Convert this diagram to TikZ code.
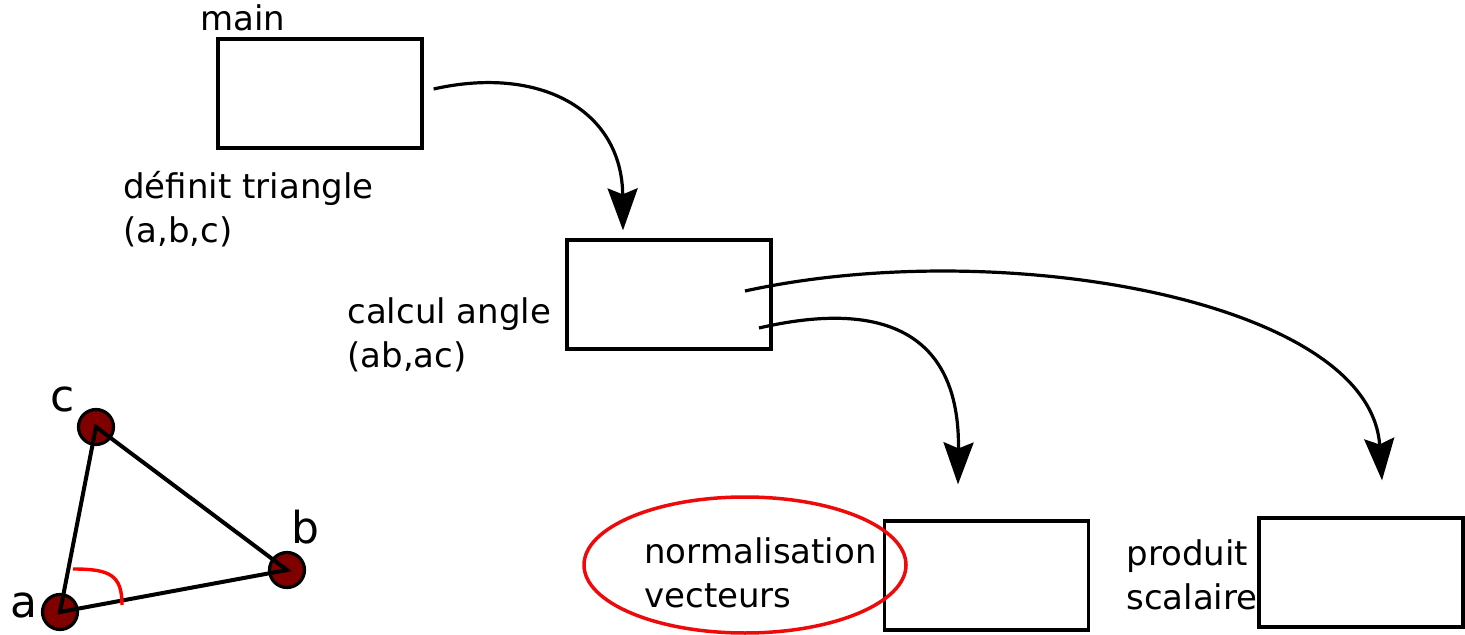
\documentclass[tikz,border=0pt]{standalone}
\usepackage{fontspec}
\setmainfont{DejaVu Sans}
\usetikzlibrary{arrows.meta,calc,shapes.geometric}
\definecolor{ptdark}{RGB}{128,0,0}
\definecolor{ringred}{RGB}{238,10,10}

\begin{document}
\begin{tikzpicture}[x=0.5pt,y=-0.5pt,line join=miter,
  box/.style={draw,line width=1.6pt,minimum width=102pt,minimum height=54.5pt,inner sep=0pt},
  lbl/.style={font=\fontsize{17}{22}\selectfont,align=left,anchor=base west,inner sep=0pt},
  flow/.style={-{Stealth[length=21pt,width=15pt,inset=3pt]},line width=1.6pt},
  vertex/.style={circle,draw,fill=ptdark,line width=1.6pt,minimum size=17.5pt,inner sep=0pt},
  vname/.style={font=\fontsize{22}{26}\selectfont,anchor=base west,inner sep=0pt}]
\useasboundingbox (0,0) rectangle (1465,635);
% boxes
\node[box] (main) at (320,93.5) {};
\node[box] (calcul) at (669,294.5) {};
\node[box] (normal) at (986.5,575.5) {};
\node[box] (produit) at (1361,572.5) {};
% labels (anchored on the last line)
\node[lbl] (mainlbl) at (200,31) {main};
\node[lbl] (trilbl) at (123,243) {définit triangle\\(a,b,c)};
\node[lbl] (anglbl) at (347,368) {calcul angle\\(ab,ac)};
\node[lbl] (normlbl) at (644,607) {normalisation\\vecteurs};
\node[lbl] (prodlbl) at (1126,609) {produit\\scalaire};
\node[draw=ringred,line width=1.75pt,ellipse,minimum width=161pt,minimum height=68pt,inner sep=0pt] (ring) at (745,565) {};
% calls
\draw[flow] ($(main.east)+(10,-4.5)$) .. controls (540,65) and (622,110) .. ($(calcul.north)+(-46,-8)$);
\draw[flow] ($(calcul.center)+(76,-3.5)$) .. controls (1000,235) and (1370,300) .. ($(produit.north)+(21,-36)$);
\draw[flow] ($(calcul.center)+(90,33.5)$) .. controls (880,300) and (960,330) .. ($(normal.north)+(-28.5,-35)$);
% triangle
\node[vertex] (a) at (60,612) {};
\node[vertex] (b) at (287,570) {};
\node[vertex] (c) at (96,427) {};
\draw[line width=2pt] (a.center) -- (b.center) -- (c.center) -- cycle;
\draw[red,line width=1.7pt] ($(a.center)+(13,-43)$) .. controls (110,569) and (122,575) .. (122,605);
\node[vname] at (10,617) {a};
\node[vname] at (291,543) {b};
\node[vname] at (50,412) {c};
\end{tikzpicture}
\end{document}
